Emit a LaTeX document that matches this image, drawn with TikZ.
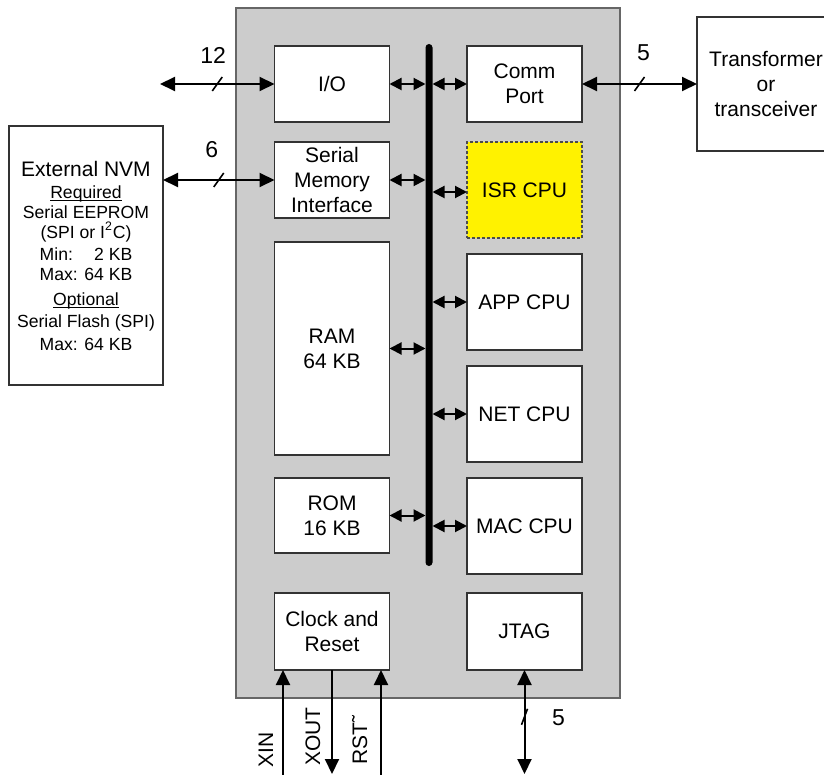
\documentclass[tikz,border=0pt]{standalone}
\usepackage{fontspec}
\setmainfont{Liberation Sans}
\usepackage{xcolor}
\usetikzlibrary{arrows.meta, positioning, calc}
\definecolor{chipgray}{HTML}{CCCCCC}

\begin{document}
\begin{tikzpicture}[
    x=0.5pt, y=-0.5pt,
    font=\fontsize{10.5}{12.6}\selectfont,
    chip/.style={rectangle, draw=black!60, fill=chipgray, line width=0.6pt, minimum width=192pt, minimum height=345pt, inner sep=0, outer sep=0},
    block/.style={rectangle, draw=black!80, fill=white, line width=0.6pt, align=center, minimum width=57.5pt, minimum height=38pt, inner sep=1pt, outer sep=0},
    cpu/.style={block, minimum height=48pt},
    isr/.style={cpu, fill=yellow, draw=black!70, dash pattern=on 1.5pt off 1pt},
    bus/.style={rectangle, fill=black, minimum width=3.5pt, minimum height=261pt, rounded corners=1.75pt, inner sep=0, outer sep=0},
    ext/.style={rectangle, draw=black!80, fill=white, line width=0.6pt, align=center, inner sep=1pt, outer sep=0},
    sig/.style={line width=1pt, >={Triangle[length=7.5pt, width=7pt]}},
    busarrow/.style={line width=1pt, <->, >={Triangle[length=6pt, width=6pt]}},
    slashmark/.style={line width=0.8pt},
    num/.style={font=\fontsize{11.5}{13}\selectfont, inner sep=0},
    pinname/.style={rotate=90, anchor=base west, inner sep=0}
]
    \clip (0,0) rectangle (824,775);
    \useasboundingbox (0,0) rectangle (824,775);

    \node [chip] (chip) at (428,353) {};
    \node [bus] (bus) at (429,305) {};

    \node [block] (io) at (332,84) {I/O};
    \node [block, below=10pt of io] (smi) {Serial\\Memory\\Interface};
    \node [block, below=12pt of smi, minimum height=106.5pt] (ram) {RAM\\64 KB};
    \node [block, below=11.5pt of ram, minimum height=37.5pt] (rom) {ROM\\16 KB};
    \node [block, below=20pt of rom, minimum height=38.5pt] (clk) {Clock and\\Reset};

    \node [block] (comm) at (524.5,84) {Comm\\Port};
    \node [isr, below=10pt of comm] (isr) {ISR CPU};
    \node [cpu, below=8pt of isr] (app) {APP CPU};
    \node [cpu, below=8pt of app] (net) {NET CPU};
    \node [cpu, below=8pt of net] (mac) {MAC CPU};
    \node [block, below=9.5pt of mac, minimum height=38.5pt] (jtag) {JTAG};

    \node [ext, minimum width=77pt, minimum height=129.5pt, font=\fontsize{8.8}{10}\selectfont] (nvm) at (86,255.5)
        {{\fontsize{10.5}{12}\selectfont External NVM}\\[1pt]
         \underline{\smash{Required}}\\
         Serial EEPROM\\
         (SPI or I\textsuperscript{2}C)\\[1pt]
         Min:\hspace{0.83em} 2 KB\\
         Max: 64 KB\\[2.5pt]
         \underline{\smash{Optional}}\\[1pt]
         Serial Flash (SPI)\\[1.5pt]
         Max: 64 KB};
    \node [ext, minimum width=69pt, minimum height=67pt] (xfmr) at (766,84) {Transformer\\or\\transceiver};

    \draw [busarrow] (io.east) -- (io.east -| bus.west);
    \draw [busarrow] (smi.east) -- (smi.east -| bus.west);
    \draw [busarrow] (ram.east) -- (ram.east -| bus.west);
    \draw [busarrow] (rom.east) -- (rom.east -| bus.west);
    \draw [busarrow] (bus.east |- comm.west) -- (comm.west);
    \draw [busarrow] ($(bus.east |- isr.west)+(0,2)$) -- ($(isr.west)+(0,2)$);
    \draw [busarrow] (bus.east |- app.west) -- (app.west);
    \draw [busarrow] (bus.east |- net.west) -- (net.west);
    \draw [busarrow] (bus.east |- mac.west) -- (mac.west);

    \coordinate (ioext) at (160,84);
    \draw [sig, <->] (ioext) -- (io.west) coordinate[midway] (ioslash);
    \draw [slashmark] ($(ioslash)+(-5,7)$) -- ($(ioslash)+(5,-7)$);
    \node [num] (n12) at ($(ioslash)+(-4,-29)$) {12};

    \draw [sig, <->] (nvm.east |- smi.west) -- (smi.west) coordinate[midway] (smislash);
    \draw [slashmark] ($(smislash)+(-5,7)$) -- ($(smislash)+(5,-7)$);
    \node [num] (n6) at ($(smislash)+(-7,-30)$) {6};

    \draw [sig, <->] (comm.east) -- (comm.east -| xfmr.west) coordinate[midway] (commslash);
    \draw [slashmark] ($(commslash)+(-5,7)$) -- ($(commslash)+(5,-7)$);
    \node [num] (n5a) at ($(commslash)+(4,-31)$) {5};

    \coordinate (xin) at (283,775);
    \coordinate (xout) at (332,774);
    \coordinate (rst) at (381,775);
    \coordinate (jtagext) at (524.5,774);
    \draw [sig, ->] (xin) -- (xin |- clk.south);
    \draw [sig, ->] (xout |- clk.south) -- (xout);
    \draw [sig, ->] (rst) -- (rst |- clk.south);
    \node [pinname] (xinlbl) at ($(xin)+(-10,-7)$) {XIN};
    \node [pinname] (xoutlbl) at ($(xout)+(-12,-8)$) {XOUT};
    \node [pinname] (rstlbl) at ($(rst)+(-14,-10)$) {RST˜};

    \draw [sig, <->] (jtag.south) -- (jtagext) coordinate[pos=0.45] (jtagslash);
    \draw [slashmark] ($(jtagslash)+(-3,8)$) -- ($(jtagslash)+(3,-8)$);
    \node [num] (n5b) at ($(jtagslash)+(34,1)$) {5};
\end{tikzpicture}
\end{document}
